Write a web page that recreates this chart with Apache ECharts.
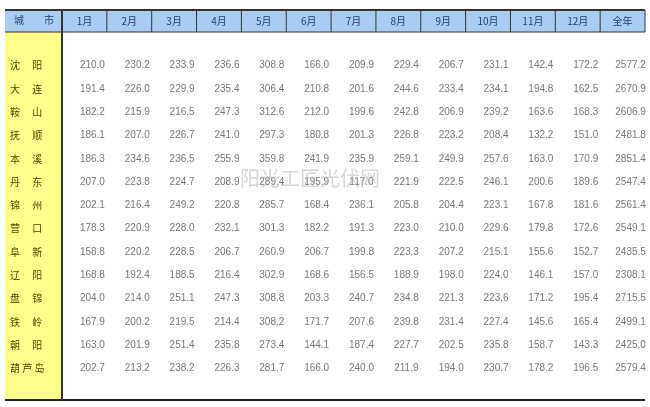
<!DOCTYPE html>
<html><head><meta charset="utf-8">
<script src="https://cdn.jsdelivr.net/npm/echarts@6/dist/echarts.min.js"></script>
<style>html,body{margin:0;padding:0;background:#fff}#c{width:650px;height:407px}</style>
</head><body><div id="c"></div>
<script>
const columns = ['1月','2月','3月','4月','5月','6月','7月','8月','9月','10月','11月','12月','全年'];
const cities = ['沈阳','大连','鞍山','抚顺','本溪','丹东','锦州','营口','阜新','辽阳','盘锦','铁岭','朝阳','葫芦岛'];
const 沈阳 = [210.0,230.2,233.9,236.6,308.8,166.0,209.9,229.4,206.7,231.1,142.4,172.2,2577.2];
const 大连 = [191.4,226.0,229.9,235.4,306.4,210.8,201.6,244.6,233.4,234.1,194.8,162.5,2670.9];
const 鞍山 = [182.2,215.9,216.5,247.3,312.6,212.0,199.6,242.8,206.9,239.2,163.6,168.3,2606.9];
const 抚顺 = [186.1,207.0,226.7,241.0,297.3,180.8,201.3,226.8,223.2,208.4,132.2,151.0,2481.8];
const 本溪 = [186.3,234.6,236.5,255.9,359.8,241.9,235.9,259.1,249.9,257.6,163.0,170.9,2851.4];
const 丹东 = [207.0,223.8,224.7,208.9,289.4,195.9,117.0,221.9,222.5,246.1,200.6,189.6,2547.4];
const 锦州 = [202.1,216.4,249.2,220.8,285.7,168.4,236.1,205.8,204.4,223.1,167.8,181.6,2561.4];
const 营口 = [178.3,220.9,228.0,232.1,301.3,182.2,191.3,223.0,210.0,229.6,179.8,172.6,2549.1];
const 阜新 = [158.8,220.2,228.5,206.7,260.9,206.7,199.8,223.3,207.2,215.1,155.6,152.7,2435.5];
const 辽阳 = [168.8,192.4,188.5,216.4,302.9,168.6,156.5,188.9,198.0,224.0,146.1,157.0,2308.1];
const 盘锦 = [204.0,214.0,251.1,247.3,308.8,203.3,240.7,234.8,221.3,223.6,171.2,195.4,2715.5];
const 铁岭 = [167.9,200.2,219.5,214.4,308.2,171.7,207.6,239.8,231.4,227.4,145.6,165.4,2499.1];
const 朝阳 = [163.0,201.9,251.4,235.8,273.4,144.1,187.4,227.7,202.5,235.8,158.7,143.3,2425.0];
const 葫芦岛 = [202.7,213.2,238.2,226.3,281.7,166.0,240.0,211.9,194.0,230.7,178.2,196.5,2579.4];
const rows = [沈阳,大连,鞍山,抚顺,本溪,丹东,锦州,营口,阜新,辽阳,盘锦,铁岭,朝阳,葫芦岛];

const data = [];
rows.forEach((r, i) => r.forEach((v, j) => data.push([j, i, v])));

const chart = echarts.init(document.getElementById('c'));
const G = {left: 62, right: 5, top: 54, bottom: 27};
const colW = (650 - G.left - G.right) / columns.length;
const g = [
  {type:'rect', shape:{x:5,y:10,width:640,height:22}, style:{fill:'#a9cdf2'}, z:-1},
  {type:'rect', shape:{x:5,y:32,width:57,height:368}, style:{fill:'#ffff8c'}, z:-1},
  {type:'line', shape:{x1:5,y1:10,x2:645,y2:10}, style:{stroke:'#333',lineWidth:2}},
  {type:'line', shape:{x1:5,y1:32,x2:645,y2:32}, style:{stroke:'#333',lineWidth:1}},
  {type:'line', shape:{x1:5,y1:400,x2:645,y2:400}, style:{stroke:'#222',lineWidth:2}},
  {type:'line', shape:{x1:62,y1:10,x2:62,y2:400}, style:{stroke:'#333',lineWidth:2}},
  {type:'text', left:240, top:168, style:{text:'阳光工匠光伏网', fill:'rgba(180,180,180,0.55)', font:'20px "Noto Sans CJK SC"'}, z:10},
  {type:'text', left:14, top:15, style:{text:'城　　市', fill:'#23406e', font:'10px "Noto Sans CJK SC"'}}
];
for (let k = 1; k < columns.length; k++) {
  const x = G.left + k * colW;
  g.push({type:'line', shape:{x1:x,y1:10,x2:x,y2:32}, style:{stroke:'#333',lineWidth:1}});
}
g.push({type:'line', shape:{x1:645,y1:10,x2:645,y2:32}, style:{stroke:'#333',lineWidth:1}});

chart.setOption({
  animation:false,
  grid:G,
  graphic:g,
  xAxis:{type:'category', data:columns, position:'top', axisLine:{show:false}, axisTick:{show:false},
    axisLabel:{margin:28, color:'#23406e', fontSize:10, fontFamily:'"Noto Sans CJK SC"'}},
  yAxis:{type:'category', data:cities, inverse:true, axisLine:{show:false}, axisTick:{show:false},
    axisLabel:{margin:0, align:'left', padding:[0,0,0,-52], color:'#4a4a00', fontSize:10, fontFamily:'"Noto Sans CJK SC"',
      formatter:s => s.length===2 ? s[0]+'　 '+s[1] : s.split('').join(' ')}},
  series:[{type:'scatter', symbolSize:0, data:data,
    label:{show:true, position:'inside', offset:[8,0], formatter:p => p.value[2].toFixed(1), color:'#555', fontSize:10, fontFamily:'Arial, "Liberation Sans"'}}]
});
</script></body></html>
